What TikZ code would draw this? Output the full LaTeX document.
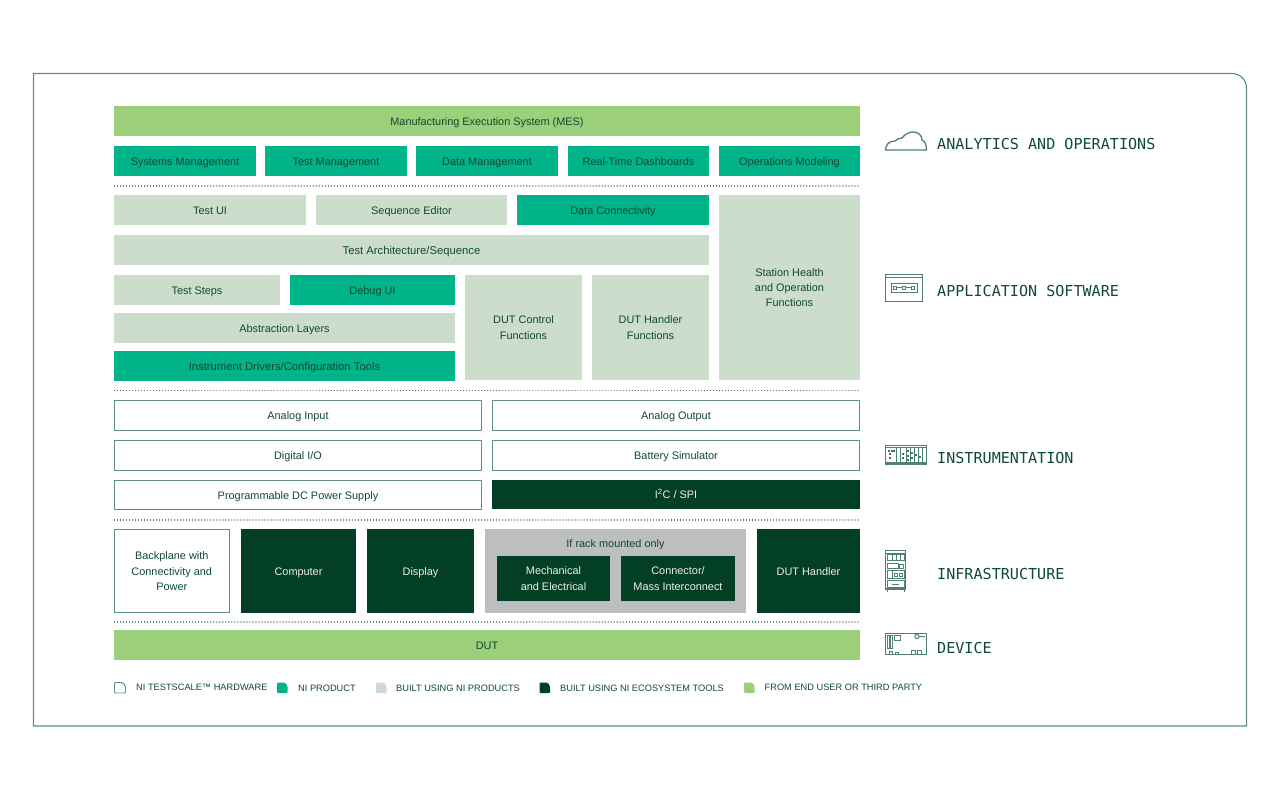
\documentclass[tikz,border=0pt]{standalone}
\usepackage{fontspec}
\setmainfont{Liberation Sans}
\newfontfamily\labelmono{DejaVu Sans Mono}
\definecolor{inkgreen}{HTML}{0F4A33}
\definecolor{framegreen}{HTML}{5F8F7C}
\definecolor{niprod}{HTML}{00B388}
\definecolor{paleg}{HTML}{CCDDCB}
\definecolor{darkg}{HTML}{033F24}
\definecolor{leaf}{HTML}{9CCF79}
\definecolor{rackgray}{HTML}{BCBEC0}
\tikzset{
  cell/.style={anchor=north west,inner sep=0pt,outer sep=0pt,align=center,font=\fontsize{10.9}{15.4}\selectfont,text=inkgreen},
  widetext/.style={font=\fontsize{11.25}{15.4}\selectfont},
  third/.style={cell,fill=leaf},
  prod/.style={cell,fill=niprod},
  built/.style={cell,fill=paleg},
  eco/.style={cell,fill=darkg,text=white!92!darkg},
  hw/.style={cell,fill=white,draw=framegreen,line width=1pt},
  rack/.style={cell,fill=rackgray},
  sep/.style={draw=inkgreen!85!white,line width=1.15pt,line cap=round,dash pattern=on 0.01pt off 3pt},
  tier/.style={anchor=west,inner sep=0pt,font=\labelmono\fontsize{15.1}{18}\selectfont,text=inkgreen},
  key/.style={anchor=west,inner sep=0pt,font=\fontsize{9.25}{11}\selectfont,text=inkgreen},
  glyph/.style={draw=framegreen!80!inkgreen,line width=1.3pt,fill=none},
  thin/.style={draw=framegreen!80!inkgreen,line width=1pt,fill=none},
  solid/.style={fill=framegreen!60!inkgreen,draw=none}
}
% line strut that sits the text optically centred in its box
\newcommand{\cellstrut}{\rule[-0.24\baselineskip]{0pt}{\baselineskip}}
% box from its corners: name, style, x1, y1, x2, y2, text
\newcommand{\bx}[7]{%
  \pgfmathsetmacro{\bw}{#5-#3}\pgfmathsetmacro{\bh}{#6-#4}%
  \node[#2,minimum width=\bw pt,minimum height=\bh pt] (#1) at (#3,#4) {\cellstrut #7\cellstrut};}
% legend swatch with its curved corner
\newcommand{\swatch}[3]{%
  \path[#1,rounded corners=1pt] (#2,693) -- (#2,682.5) -- ({#2+6},682.5) .. controls ({#2+8.5},682.5) and ({#2+#3},685) .. ({#2+#3},688) -- ({#2+#3},693) -- cycle;}
\begin{document}
\begin{tikzpicture}[x=1pt,y=-1pt]
\useasboundingbox (0,0) rectangle (1280,800);
\draw[draw=framegreen,line width=1.1pt] (33.5,73.5) -- (1232,73.5) .. controls (1240,73.5) and (1246.5,80) .. (1246.5,88) -- (1246.5,726) -- (33.5,726) -- cycle;

% analytics tier
\bx{mes}{third}{114}{106}{860}{136}{Manufacturing Execution System (MES)}
\bx{sysm}{prod}{114}{146}{256}{176}{Systems Management}
\bx{testm}{prod}{265}{146}{407}{176}{Test Management}
\bx{datam}{prod}{416}{146}{558}{176}{Data Management}
\bx{dash}{prod}{568}{146}{709}{176}{Real-Time Dashboards}
\bx{opsm}{prod}{719}{146}{860}{176}{Operations Modeling}
\draw[sep] (114.5,186) -- (860,186);

% application software tier
\bx{testui}{built}{114}{195}{306}{225}{Test UI}
\bx{seqed}{built}{316}{195}{507}{225}{Sequence Editor}
\bx{dataconn}{prod}{517}{195}{709}{225}{Data Connectivity}
\bx{station}{built}{719}{195}{860}{380}{Station Health\\and Operation\\Functions}
\bx{arch}{built,widetext}{114}{235}{709}{265}{Test Architecture/Sequence}
\bx{steps}{built}{114}{275}{280}{305}{Test Steps}
\bx{debug}{prod}{290}{275}{455}{305}{Debug UI}
\bx{abstr}{built}{114}{313}{455}{343}{Abstraction Layers}
\bx{drivers}{prod,widetext}{114}{351}{455}{381}{Instrument Drivers/Configuration Tools}
\bx{dutctl}{built}{465}{275}{582}{380}{DUT Control\\Functions}
\bx{duthnd}{built}{592}{275}{709}{380}{DUT Handler\\Functions}
\draw[sep] (114.5,390.5) -- (860,390.5);

% instrumentation tier
\bx{ain}{hw}{114.5}{400.5}{481.5}{430}{Analog Input}
\bx{aout}{hw}{492.5}{400.5}{859.5}{430}{Analog Output}
\bx{dio}{hw}{114.5}{440.5}{481.5}{470}{Digital I/O}
\bx{batt}{hw}{492.5}{440.5}{859.5}{470}{Battery Simulator}
\bx{psu}{hw}{114.5}{480.5}{481.5}{509.5}{Programmable DC Power Supply}
\bx{i2c}{eco}{492}{480}{860}{509}{I\textsuperscript{2}C / SPI}
\draw[sep] (114.5,520) -- (860,520);

% infrastructure tier
\bx{backpl}{hw}{114.5}{529.5}{229}{612.5}{Backplane with\\Connectivity and\\Power}
\bx{comp}{eco}{241}{529}{356}{613}{Computer}
\bx{disp}{eco}{367}{529}{474}{613}{Display}
\node[rack,minimum width=261pt,minimum height=84pt] (rackarea) at (485,529) {};
\node[anchor=center,inner sep=0pt,font=\fontsize{10.9}{13}\selectfont,text=inkgreen] (racklabel) at (615.5,545) {If rack mounted only};
\bx{mech}{eco}{497}{556}{610}{601}{Mechanical\\and Electrical}
\bx{conn}{eco}{621}{556}{735}{601}{Connector/\\Mass Interconnect}
\bx{hndl}{eco}{757}{529}{860}{613}{DUT Handler}
\draw[sep] (114.5,622) -- (860,622);

% device tier
\bx{dut}{third}{114}{630}{860}{660}{DUT}

% legend
\swatch{draw=framegreen,line width=.9pt,fill=white}{114.5}{11}
\node[key] (k1) at (136,687.5) {NI TESTSCALE™ HARDWARE};
\swatch{fill=niprod}{277}{10.5}
\node[key] (k2) at (298,688) {NI PRODUCT};
\swatch{fill=paleg}{376}{10.5}
\node[key] (k3) at (396,688) {BUILT USING NI PRODUCTS};
\swatch{fill=darkg}{539.5}{10.5}
\node[key] (k4) at (560,688) {BUILT USING NI ECOSYSTEM TOOLS};
\swatch{fill=leaf}{744}{10.5}
\node[key] (k5) at (764.5,687.5) {FROM END USER OR THIRD PARTY};

% tier captions
\node[tier] (t1) at (937,144) {ANALYTICS AND OPERATIONS};
\node[tier] (t2) at (937,291) {APPLICATION SOFTWARE};
\node[tier] (t3) at (937,458) {INSTRUMENTATION};
\node[tier] (t4) at (937,574) {INFRASTRUCTURE};
\node[tier] (t5) at (937,648) {DEVICE};

% cloud icon
\draw[glyph,line join=round] (885.5,150) .. controls (885.5,145) and (889,141) .. (895,141)
  .. controls (897,139) and (899,138) .. (902,138)
  .. controls (905,134) and (909,132) .. (913,132)
  .. controls (918,132) and (922,135) .. (922,140)
  .. controls (925,141) and (926.5,145) .. (926.5,150) -- cycle;

% application window icon
\draw[glyph] (885.5,274.5) rectangle (922.5,301.5);
\draw[thin] (885.5,277.5) -- (922.5,277.5);
\draw[thin] (891,283.5) rectangle (917,292);
\draw[thin] (893,286) rectangle (896.5,289.5);
\draw[thin] (902,286) rectangle (905.5,289.5);
\draw[thin] (911,286) rectangle (914.5,289.5);
\draw[thin] (896.5,287.7) -- (902,287.7) (905.5,287.7) -- (911,287.7);

% instrument chassis icon
\draw[glyph] (885.5,445.5) rectangle (926.5,464);
\draw[thin] (885.5,447.5) -- (926.5,447.5) (885.5,462) -- (926.5,462);
\foreach \px in {896,900,906,910,914,918,922}{\draw[thin] (\px,447.5) -- (\px,462);}
\foreach \px/\py in {888/449.5,890.5/449.5,893/449.5,889/453,889/457,901.5/453,901.5/457,907/450,907/455,907/459,911/452,911/457,915/454,919/456}{\fill[solid] (\px,\py) rectangle ++(2,2);}

% equipment rack icon
\draw[glyph] (885.5,550.5) rectangle (905.5,589);
\draw[thin] (887,589) -- (887,592) (904,589) -- (904,592);
\draw[thin] (885.5,553) -- (905.5,553);
\draw[thin] (887,554.5) rectangle (904,560.5);
\foreach \px in {892,896,900}{\draw[thin] (\px,554.5) -- (\px,560.5);}
\draw[thin] (887,563) rectangle (898,568) (899.5,564) rectangle (903.5,568);
\draw[thin] (887,570.5) rectangle (904,578.5) (892,570.5) -- (892,578.5);
\draw[thin] (894,573) rectangle (897.5,576) (899,573) rectangle (902.5,576);
\draw[thin] (887,580.5) rectangle (904,587.5) (892,584) -- (899,584);

% circuit board icon
\draw[glyph] (885.5,654.5) -- (885.5,633.5) -- (926.5,633.5) -- (926.5,654.5) -- cycle;
\draw[thin] (887.5,635.5) rectangle (889.5,648) (890.5,635.5) rectangle (892.5,648);
\draw[thin] (894.5,635.5) rectangle (900,640);
\draw[thin] (917,636.5) circle[radius=2.2] (919.2,636.5) -- (925,636.5);
\draw[thin] (889,654.5) -- (889,651.5) -- (892,651.5) -- (892,654.5) (895,654.5) -- (895,652) -- (898,652) -- (898,654.5);
\draw[thin] (911,650) rectangle (915.5,654.5);
\draw[thin] (917,650) rectangle (921.5,654.5);
\end{tikzpicture}
\end{document}
